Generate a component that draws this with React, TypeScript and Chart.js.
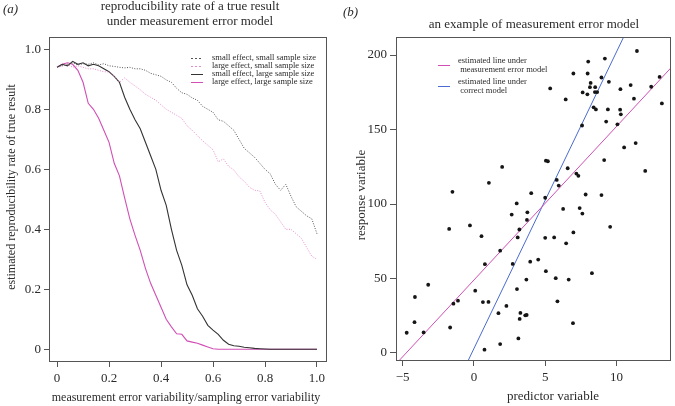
import React, { useEffect, useRef } from 'react';
import { Chart, registerables } from 'chart.js';

Chart.register(...registerables);

const SERIF = '"Liberation Serif", "Times New Roman", serif';

// ---------- Panel (a) data ----------
const errorRatio = [
  0, 0.02, 0.04, 0.06, 0.08, 0.1, 0.12, 0.14, 0.16, 0.18,
  0.2, 0.22, 0.24, 0.26, 0.28, 0.3, 0.32, 0.34, 0.36, 0.38,
  0.4, 0.42, 0.44, 0.46, 0.48, 0.5, 0.52, 0.54, 0.56, 0.58,
  0.6, 0.62, 0.64, 0.66, 0.68, 0.7, 0.72, 0.74, 0.76, 0.78,
  0.8, 0.82, 0.84, 0.86, 0.88, 0.9, 0.92, 0.94, 0.96, 0.98, 1.0,
];
const smallEffectSmallSample = [
  0.94, 0.945, 0.95, 0.955, 0.948, 0.952, 0.95, 0.955, 0.948, 0.952,
  0.945, 0.943, 0.94, 0.938, 0.94, 0.935, 0.935, 0.93, 0.92, 0.915,
  0.91, 0.898, 0.89, 0.87, 0.855, 0.85, 0.838, 0.83, 0.81, 0.8,
  0.79, 0.765, 0.76, 0.745, 0.73, 0.7, 0.67, 0.655, 0.64, 0.62,
  0.6, 0.585, 0.55, 0.53, 0.55, 0.51, 0.475, 0.46, 0.445, 0.435, 0.385,
];
const largeEffectSmallSample = [
  0.94, 0.945, 0.95, 0.94, 0.945, 0.94, 0.935, 0.935, 0.93, 0.925,
  0.925, 0.91, 0.89, 0.905, 0.89, 0.878, 0.865, 0.85, 0.84, 0.83,
  0.815, 0.8, 0.79, 0.78, 0.77, 0.745, 0.73, 0.712, 0.695, 0.68,
  0.665, 0.625, 0.635, 0.61, 0.598, 0.575, 0.56, 0.54, 0.53, 0.528,
  0.49, 0.465, 0.45, 0.425, 0.4, 0.4, 0.385, 0.37, 0.34, 0.31, 0.3,
];
const smallEffectLargeSample = [
  0.94, 0.95, 0.945, 0.96, 0.95, 0.955, 0.945, 0.95, 0.945, 0.935,
  0.925, 0.91, 0.89, 0.84, 0.8, 0.765, 0.735, 0.69, 0.645, 0.6,
  0.53, 0.48, 0.4, 0.33, 0.28, 0.215, 0.18, 0.135, 0.11, 0.08,
  0.064, 0.05, 0.03, 0.017, 0.012, 0.01, 0.007, 0.005, 0.003, 0.002,
  0.001, 0, 0, 0, 0, 0, 0, 0, 0, 0, 0,
];
const largeEffectLargeSample = [
  0.94, 0.95, 0.955, 0.95, 0.93, 0.89, 0.82, 0.8, 0.77, 0.73,
  0.69, 0.62, 0.578, 0.505, 0.435, 0.38, 0.33, 0.27, 0.22, 0.18,
  0.14, 0.1, 0.075, 0.052, 0.05, 0.028, 0.024, 0.02, 0.014, 0.008,
  0.002, 0, 0, 0, 0, 0, 0, 0, 0, 0,
  0, 0, 0, 0, 0, 0, 0, 0, 0, 0, 0,
];
const ratioTicks = [0, 0.2, 0.4, 0.6, 0.8, 1.0];
const rateTicks = [0, 0.2, 0.4, 0.6, 0.8, 1.0];
const legendLabelsA = [
  'small effect, small sample size',
  'large effect, small sample size',
  'small effect, large sample size',
  'large effect, large sample size',
];
const titleA = ['reproducibility rate of a true result', 'under measurement error model'];
const xTitleA = 'measurement error variability/sampling error variability';
const yTitleA = 'estimated reproducibility rate of true result';

// ---------- Panel (b) data ----------
const predictor = [
  11.44, 9.19, 8.02, 6.98, 7.98, 8.95, 13.03, 8.19, 9.47, 8.14,
  8.51, 5.35, 10.28, 11.0, 12.44, 7.63, 7.96, 8.49, 8.65, 6.44,
  11.23, 13.19, 8.4, 8.56, 9.4, 10.26, 10.31, 9.28, 10.07, 7.59,
  11.35, 10.54, 5.05, 5.19, 1.98, 6.58, 9.14, 12.02, 7.19, 7.33,
  1.05, -1.51, 5.81, 5.95, 4.02, 7.84, 8.95, 3.0, 5.0, 6.26,
  7.42, 7.61, 2.65, 3.75, 3.72, 3.19, 9.56, -1.74, -0.28, 0.53,
  3.07, 5.0, 5.63, 6.98, 6.47, 1.84, 2.72, 0.77, 3.95, 4.51,
  5.05, 5.74, 6.65, 3.68, 8.28, -3.21, 0.09, 3.02, -4.14, -1.12,
  -1.44, 0.63, 1.02, 5.86, 2.28, 1.72, 3.26, 3.6, 3.7, 3.21,
  -4.17, 6.95, -1.67, -4.72, -3.53, 3.12, 1.84, 0.74,
];
const response = [
  202.7, 197.6, 195.6, 187.6, 187.6, 184.9, 185.3, 181.3, 182.0, 178.4,
  178.4, 177.6, 177.1, 179.8, 178.7, 174.9, 173.6, 175.1, 175.1, 170.2,
  170.7, 167.5, 164.9, 163.5, 163.5, 163.3, 160.2, 155.3, 153.5, 152.7,
  140.9, 138.0, 129.1, 128.7, 124.9, 124.0, 129.5, 122.2, 120.4, 118.9,
  114.2, 108.2, 116.2, 112.4, 107.3, 106.4, 106.0, 100.4, 104.2, 96.7,
  97.3, 93.6, 92.9, 94.4, 89.3, 82.9, 84.7, 83.3, 85.6, 78.4,
  77.6, 77.3, 77.6, 80.9, 73.6, 68.7, 59.8, 59.6, 61.3, 62.7,
  54.9, 50.2, 49.3, 49.3, 53.6, 45.8, 41.8, 42.9, 37.6, 35.1,
  33.1, 34.2, 34.3, 34.7, 31.6, 26.7, 26.9, 25.3, 25.5, 22.9,
  20.7, 20.0, 17.1, 13.6, 13.8, 9.8, 6.0, 2.2,
];
const lineNames = ['estimated line under measurement error model', 'estimated line under correct model'];
const legendLinesB = [
  ['estimated line under', ' measurement error model'],
  ['estimated line under', ' correct model'],
];
const lineSlopes = [10.3, 19.9];
const lineIntercepts = [49, 3];
const predictorTicks = [-5, 0, 5, 10];
const responseTicks = [0, 50, 100, 150, 200];
const titleB = 'an example of measurement error model';
const xTitleB = 'predictor variable';
const yTitleB = 'response variable';

const TEXT = '#2b2b2b';
const AXIS = '#555555';
const BLACK_LINE = '#333333';
const PINK_LINE = '#d14fb5';
const PINK_DOT = '#e58acb';
const GRAY_DOT = '#555555';
const BLUE_LINE = '#4a6bd0';

function boxPlugin(id: string) {
  return {
    id,
    afterDraw(chart: any) {
      const { ctx, chartArea: ca } = chart;
      ctx.save();
      ctx.strokeStyle = AXIS;
      ctx.lineWidth = 1;
      ctx.strokeRect(ca.left + 0.5, ca.top + 0.5, ca.right - ca.left - 1, ca.bottom - ca.top - 1);
      ctx.restore();
    },
  };
}

function drawText(ctx: CanvasRenderingContext2D, text: string, x: number, y: number, font: string, align: CanvasTextAlign = 'center', rotate = 0) {
  ctx.save();
  ctx.font = font;
  ctx.fillStyle = TEXT;
  ctx.textAlign = align;
  ctx.textBaseline = 'middle';
  ctx.translate(x, y);
  if (rotate) ctx.rotate(rotate);
  ctx.fillText(text, 0, 0);
  ctx.restore();
}

const decorA = {
  id: 'decorA',
  afterDraw(chart: any) {
    const ctx = chart.ctx as CanvasRenderingContext2D;
    drawText(ctx, '(a)', 3, 10, `italic 13px ${SERIF}`, 'left');
    drawText(ctx, titleA[0], 190, 7, `13px ${SERIF}`);
    drawText(ctx, titleA[1], 190, 22, `13px ${SERIF}`);
    drawText(ctx, yTitleA, 12, 187, `12px ${SERIF}`, 'center', -Math.PI / 2);
    drawText(ctx, xTitleA, 186, 398, `12px ${SERIF}`);
    const styles = [
      { color: GRAY_DOT, dash: [2, 2] },
      { color: PINK_DOT, dash: [2, 2] },
      { color: BLACK_LINE, dash: [] as number[] },
      { color: PINK_LINE, dash: [] as number[] },
    ];
    const rows = [58, 66, 74, 82];
    legendLabelsA.forEach((label, i) => {
      ctx.save();
      ctx.strokeStyle = styles[i].color;
      ctx.lineWidth = 1;
      ctx.setLineDash(styles[i].dash);
      ctx.beginPath();
      ctx.moveTo(191, rows[i] + 0.5);
      ctx.lineTo(203, rows[i] + 0.5);
      ctx.stroke();
      ctx.restore();
      drawText(ctx, label, 212, rows[i], `8.5px ${SERIF}`, 'left');
    });
  },
};

const decorB = {
  id: 'decorB',
  afterDraw(chart: any) {
    const ctx = chart.ctx as CanvasRenderingContext2D;
    drawText(ctx, '(b)', 6, 13, `italic 13px ${SERIF}`, 'left');
    drawText(ctx, titleB, 197, 25, `13px ${SERIF}`);
    drawText(ctx, yTitleB, 25, 195, `13px ${SERIF}`, 'center', -Math.PI / 2);
    drawText(ctx, xTitleB, 216, 397, `13px ${SERIF}`);
    const colors = [PINK_LINE, BLUE_LINE];
    const rows = [65, 86];
    legendLinesB.forEach((lines, i) => {
      ctx.save();
      ctx.strokeStyle = colors[i];
      ctx.lineWidth = 1;
      ctx.beginPath();
      ctx.moveTo(101, rows[i] + 0.5);
      ctx.lineTo(113, rows[i] + 0.5);
      ctx.stroke();
      ctx.restore();
      drawText(ctx, lines[0], 121, rows[i] - 4.5, `8.5px ${SERIF}`, 'left');
      drawText(ctx, lines[1], 121, rows[i] + 4.5, `8.5px ${SERIF}`, 'left');
    });
  },
};

function tickFont() {
  return { family: SERIF, size: 13 };
}

function PanelA() {
  const ref = useRef<HTMLCanvasElement>(null);
  useEffect(() => {
    if (!ref.current) return;
    const mk = (ys: number[]) => errorRatio.map((x, i) => ({ x, y: ys[i] }));
    const chart = new Chart(ref.current, {
      type: 'line',
      data: {
        datasets: [
          { label: legendLabelsA[0], data: mk(smallEffectSmallSample), borderColor: GRAY_DOT, borderDash: [1, 1.5], borderWidth: 1 },
          { label: legendLabelsA[1], data: mk(largeEffectSmallSample), borderColor: PINK_DOT, borderDash: [1, 1.5], borderWidth: 1 },
          { label: legendLabelsA[2], data: mk(smallEffectLargeSample), borderColor: BLACK_LINE, borderWidth: 1.1 },
          { label: legendLabelsA[3], data: mk(largeEffectLargeSample), borderColor: PINK_LINE, borderWidth: 1.1 },
        ],
      },
      options: {
        responsive: false,
        animation: false,
        layout: { padding: { top: 37, right: 10, left: 0, bottom: 0 } },
        elements: { point: { radius: 0 }, line: { tension: 0 } },
        plugins: { legend: { display: false }, tooltip: { enabled: false }, title: { display: false } },
        scales: {
          x: {
            type: 'linear',
            min: -0.031,
            max: 1.0385,
            afterBuildTicks: (s: any) => { s.ticks = ratioTicks.map((v) => ({ value: v })); },
            afterFit: (s: any) => { s.height = 44; },
            grid: { drawOnChartArea: false, drawTicks: true, tickLength: 5, color: AXIS },
            border: { display: false },
            ticks: {
              font: tickFont(), color: TEXT, padding: 4, maxRotation: 0, autoSkip: false,
              callback: (v: any) => (v === 0 ? '0' : Number(v).toFixed(1)),
            },
          },
          y: {
            type: 'linear',
            min: -0.0423,
            max: 1.041,
            afterBuildTicks: (s: any) => { s.ticks = rateTicks.map((v) => ({ value: v })); },
            afterFit: (s: any) => { s.width = 49; },
            grid: { drawOnChartArea: false, drawTicks: true, tickLength: 5, color: AXIS },
            border: { display: false },
            ticks: {
              font: tickFont(), color: TEXT, padding: 3, autoSkip: false,
              callback: (v: any) => (v === 0 ? '0' : Number(v).toFixed(1)),
            },
          },
        },
      },
      plugins: [boxPlugin('boxA'), decorA],
    } as any);
    return () => chart.destroy();
  }, []);
  return <canvas ref={ref} width={337} height={406} style={{ position: 'absolute', left: 0, top: 0, width: 337, height: 406 }} />;
}

function PanelB() {
  const ref = useRef<HTMLCanvasElement>(null);
  useEffect(() => {
    if (!ref.current) return;
    const xMin = -5.47;
    const xMax = 13.83;
    const lineData = (k: number) => [
      { x: xMin - 1, y: lineIntercepts[k] + lineSlopes[k] * (xMin - 1) },
      { x: xMax + 1, y: lineIntercepts[k] + lineSlopes[k] * (xMax + 1) },
    ];
    const chart = new Chart(ref.current, {
      type: 'scatter',
      data: {
        datasets: [
          {
            type: 'scatter',
            label: 'observations',
            data: predictor.map((x, i) => ({ x, y: response[i] })),
            pointRadius: 1.9,
            pointBackgroundColor: '#151515',
            pointBorderWidth: 0,
          },
          {
            type: 'line',
            label: lineNames[0],
            data: lineData(0),
            borderColor: PINK_LINE,
            borderWidth: 1,
            pointRadius: 0,
            clip: 0,
          },
          {
            type: 'line',
            label: lineNames[1],
            data: lineData(1),
            borderColor: BLUE_LINE,
            borderWidth: 1,
            pointRadius: 0,
            clip: 0,
          },
        ],
      },
      options: {
        responsive: false,
        animation: false,
        layout: { padding: { top: 37, right: 2, left: 0, bottom: 0 } },
        plugins: { legend: { display: false }, tooltip: { enabled: false }, title: { display: false } },
        scales: {
          x: {
            type: 'linear',
            min: xMin,
            max: xMax,
            afterBuildTicks: (s: any) => { s.ticks = predictorTicks.map((v) => ({ value: v })); },
            afterFit: (s: any) => { s.height = 45; },
            grid: { drawOnChartArea: false, drawTicks: true, tickLength: 5, color: AXIS },
            border: { display: false },
            ticks: {
              font: tickFont(), color: TEXT, padding: 4, maxRotation: 0, autoSkip: false,
              callback: (v: any) => (v < 0 ? '\u2212' + Math.abs(v) : String(v)),
            },
          },
          y: {
            type: 'linear',
            min: -5.37,
            max: 212.1,
            afterBuildTicks: (s: any) => { s.ticks = responseTicks.map((v) => ({ value: v })); },
            afterFit: (s: any) => { s.width = 59; },
            grid: { drawOnChartArea: false, drawTicks: true, tickLength: 6, color: AXIS },
            border: { display: false },
            ticks: { font: tickFont(), color: TEXT, padding: 3, autoSkip: false },
          },
        },
      },
      plugins: [boxPlugin('boxB'), decorB],
    } as any);
    return () => chart.destroy();
  }, []);
  return <canvas ref={ref} width={338} height={406} style={{ position: 'absolute', left: 337, top: 0, width: 338, height: 406 }} />;
}

export default function App() {
  return (
    <div style={{ position: 'fixed', left: 0, top: 0, width: 675, height: 406, background: '#ffffff' }}>
      <PanelA />
      <PanelB />
    </div>
  );
}
